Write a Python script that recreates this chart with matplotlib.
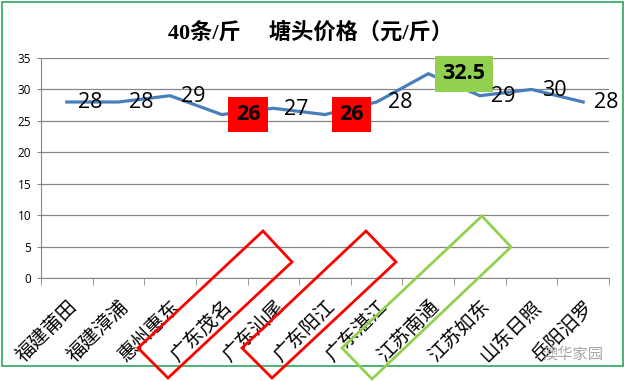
import matplotlib.pyplot as plt
from matplotlib.patches import Polygon, Rectangle

plt.rcParams['font.family'] = ['Open Sans', 'Noto Sans CJK SC', 'DejaVu Sans']

# data
regions = ["福建莆田", "福建漳浦", "惠州惠东", "广东茂名", "广东汕尾", "广东阳江",
           "广东湛江", "江苏南通", "江苏如东", "山东日照", "岳阳汨罗"]
prices = [28, 28, 29, 26, 27, 26, 28, 32.5, 29, 30, 28]
price_labels = ["28", "28", "29", "26", "27", "26", "28", "32.5", "29", "30", "28"]
highlight = {3: "#ff0000", 5: "#ff0000", 7: "#92d050"}

W, H = 624, 381
fig = plt.figure(figsize=(W / 100, H / 100), dpi=100)

def px(x, y):
    # pixel (from top-left) -> figure fraction
    return (x / W, 1 - y / H)

# green frame round the chart
fig.patches.append(Rectangle(px(2, 366), 621 / W, 364 / H, transform=fig.transFigure,
                             fill=False, ec="#2ea55f", lw=1.2))

fig.text(310 / W, 1 - 33 / H, "40条/斤     塘头价格（元/斤）", ha="center", va="center",
         fontsize=16, fontweight="bold", family=["Liberation Serif", "Noto Sans CJK SC"])

ax = fig.add_axes([41 / W, 1 - 278 / H, (609 - 41) / W, (278 - 58) / H])
x = list(range(len(regions)))
ax.plot(x, prices, color="#4a7ebb", lw=2.3, solid_joinstyle="round", zorder=3)

for i, (v, s) in enumerate(zip(prices, price_labels)):
    if i in highlight:
        ax.annotate(s, (i, v), xytext=(14, 0), textcoords="offset pixels", ha="left", va="center",
                    fontsize=15.5, fontweight="bold", zorder=5, annotation_clip=False,
                    bbox=dict(boxstyle="square,pad=0.34", fc=highlight[i], ec="none"))
    else:
        ax.annotate(s, (i, v), xytext=(11, -1), textcoords="offset pixels", ha="left", va="center",
                    fontsize=15.5, zorder=5, annotation_clip=False)

ax.set_xlim(-0.5, len(regions) - 0.5)
ax.set_ylim(0, 35)
ax.set_yticks(range(0, 36, 5))
ax.set_xticks(x)
ax.set_xticklabels(regions, rotation=45, ha="right", va="top", rotation_mode="anchor",
                   fontsize=14, family=["Noto Sans CJK SC"])
for lab in ax.get_xticklabels():
    lab.set_x(lab.get_position()[0])
ax.set_xticks([i - 0.5 for i in range(len(regions) + 1)], minor=True)
ax.tick_params(axis="x", which="major", length=0, pad=13)
ax.tick_params(axis="x", which="minor", length=5, color="#868686")
ax.tick_params(axis="y", length=3, color="#868686", labelsize=8.5, pad=4)
ax.grid(axis="y", color="#868686", lw=0.9)
ax.set_axisbelow(True)
for side in ["top", "right"]:
    ax.spines[side].set_visible(False)
for side in ["left", "bottom"]:
    ax.spines[side].set_color("#868686")

# hand-drawn highlight frames over the labels
frames = [
    ([(138, 348), (263, 231), (292, 262), (168, 378)], "#ff0000"),
    ([(242, 348), (366, 231), (396, 262), (272, 378)], "#ff0000"),
    ([(342, 348), (482, 216), (511, 247), (372, 379)], "#92d050"),
]
for pts, c in frames:
    fig.patches.append(Polygon([px(a, b) for a, b in pts], closed=True, fill=False, ec=c, lw=2,
                               transform=fig.transFigure))

fig.text(573 / W, 1 - 354 / H, "澳华家园", ha="center", va="center", fontsize=11,
         color="#a8a8a8", family=["Noto Sans CJK SC"])

fig.savefig("out.png", dpi=100)
